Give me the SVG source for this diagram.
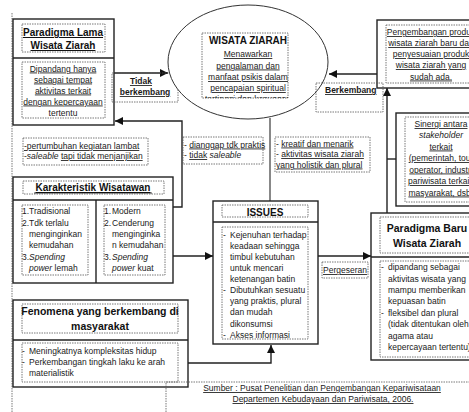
<svg xmlns="http://www.w3.org/2000/svg" width="469" height="412" viewBox="0 0 469 412">
<style>
.t{font-family:"Liberation Sans",Arial,sans-serif;font-size:8.5px;fill:#1a1a1a}
.i{font-style:italic}
.c{text-anchor:middle}
.u{text-decoration:underline wavy #d42020;text-decoration-thickness:0.6px;text-underline-offset:1.5px}
.h{font-family:"Liberation Sans",Arial,sans-serif;font-size:10.5px;font-weight:bold;fill:#111;text-anchor:middle}
.lb{font-family:"Liberation Sans",Arial,sans-serif;font-size:8.5px;font-weight:bold;fill:#1a1a1a}
.box{fill:#fff;stroke:#222;stroke-width:1.4}
.dv{stroke:#222;stroke-width:1.4}
.ds{fill:none;stroke:#555;stroke-width:0.8;stroke-dasharray:1.5 1}
.con{fill:none;stroke:#222;stroke-width:1.4}
.stem{fill:none;stroke:#888;stroke-width:2}
</style>
<defs>
<marker id="ah" markerUnits="userSpaceOnUse" markerWidth="9" markerHeight="8" refX="8" refY="4" orient="auto">
<path d="M0,0 L8,4 L0,8 Z" fill="#111"/>
</marker>
<clipPath id="ec"><rect x="202" y="33" width="86" height="65"/></clipPath>
</defs>
<rect width="469" height="412" fill="#fff"/>

<line x1="12" y1="13" x2="12" y2="412" class="ds"/>

<g id="connectors">
<path class="con" d="M114,73 H168" marker-end="url(#ah)"/>
<path class="con" d="M173,207 H182 V121 H115" marker-end="url(#ah)"/>
<path class="stem" d="M270,118 V201"/>
<path class="con" d="M377,74 H329" marker-end="url(#ah)"/>
<path class="con" d="M387,216 V88" marker-end="url(#ah)"/>
<path class="con" d="M387,159 H396"/>
<path class="con" d="M173,256 H213" marker-end="url(#ah)"/>
<path class="con" d="M188,363 H271 V345" marker-end="url(#ah)"/>
<path class="con" d="M318,256 H371" marker-end="url(#ah)"/>
</g>

<g id="paradigma-lama">
<rect class="box" x="13" y="19" width="101" height="106"/>
<line class="dv" x1="13" y1="58" x2="114" y2="58"/>
<rect class="ds" x="22" y="24" width="83" height="28"/>
<text class="h u" x="63" y="36" style="font-size:10px">Paradigma Lama</text>
<text class="h u" x="63" y="49" style="font-size:10px">Wisata Ziarah</text>
<rect class="ds" x="22" y="62" width="83" height="56"/>
<text class="t c u" x="63" y="71.5">Dipandang hanya</text>
<text class="t c u" x="63" y="82.5">sebagai tempat</text>
<text class="t c u" x="63" y="93.5">aktivitas terkait</text>
<text class="t c u" x="63" y="104.5">dengan kepercayaan</text>
<text class="t c" x="63" y="115.5">tertentu</text>
</g>

<g id="tidak-berkembang">
<rect class="ds" x="112" y="73" width="66" height="29"/>
<text class="lb c u" x="141" y="84">Tidak</text>
<text class="lb c u" x="145" y="95">berkembang</text>
</g>

<g id="wisata-ziarah">
<ellipse cx="248" cy="62" rx="80" ry="57" fill="#fff" stroke="#333" stroke-width="1"/>
<rect class="ds" x="202" y="33" width="86" height="65"/>
<g clip-path="url(#ec)">
<text class="h" x="248" y="44" style="font-size:10px">WISATA ZIARAH</text>
<text class="t c u" x="248" y="57">Menawarkan</text>
<text class="t c u" x="248" y="68.5">pengalaman dan</text>
<text class="t c u" x="248" y="80">manfaat psikis dalam</text>
<text class="t c u" x="248" y="91">pencapaian spiritual</text>
<text class="t c u" x="248" y="102">tertinggi dan kepuasan</text>
</g>
</g>

<g id="pengembangan">
<rect class="box" x="377" y="20" width="100" height="68"/>
<rect class="ds" x="386" y="25" width="90" height="58"/>
<text class="t c u" x="431" y="35">Pengembangan produk</text>
<text class="t c u" x="431" y="46">wisata ziarah baru dan</text>
<text class="t c u" x="431" y="57">penyesuaian produk</text>
<text class="t c u" x="431" y="68">wisata ziarah yang</text>
<text class="t c u" x="431" y="79.5">sudah ada.</text>
</g>

<g id="berkembang">
<rect class="ds" x="316" y="83" width="67" height="29"/>
<text class="lb u" x="325" y="93">Berkembang</text>
</g>

<g id="note-lama">
<rect class="ds" x="23" y="138" width="125" height="27"/>
<text class="t u" x="24" y="149">-pertumbuhan kegiatan lambat</text>
<text class="t" x="24" y="159">-<tspan class="i">saleable</tspan> <tspan class="u">tapi tidak menjanjikan</tspan></text>
</g>

<g id="note-tidak-praktis">
<rect class="ds" x="183" y="137" width="80" height="27"/>
<text class="t" x="184" y="147.5">- <tspan class="u">dianggap tdk praktis</tspan></text>
<text class="t" x="184" y="158">- <tspan class="u">tidak</tspan> <tspan class="i">saleable</tspan></text>
</g>

<g id="note-kreatif">
<rect class="ds" x="275" y="137" width="95" height="35"/>
<text class="t" x="276" y="146.5">- <tspan class="u">kreatif dan menarik</tspan></text>
<text class="t" x="276" y="157">- <tspan class="u">aktivitas wisata ziarah</tspan></text>
<text class="t u" x="276" y="167.5">yang holistik dan plural</text>
</g>

<g id="sinergi">
<rect class="box" x="396" y="113" width="90" height="93"/>
<rect class="ds" x="405" y="117" width="80" height="85"/>
<text class="t c u" x="441" y="127">Sinergi antara</text>
<text class="t c i" x="441" y="138">stakeholder</text>
<text class="t c u" x="441" y="149.5">terkait</text>
<text class="t c u" x="441" y="161">(pemerintah, tour</text>
<text class="t c u" x="441" y="172.5">operator, industri</text>
<text class="t c u" x="441" y="184">pariwisata terkait,</text>
<text class="t c u" x="441" y="195.5">masyarakat, dsb)</text>
</g>

<g id="karakteristik">
<rect class="box" x="13" y="177" width="160" height="106"/>
<line class="dv" x1="13" y1="200" x2="173" y2="200"/>
<line class="dv" x1="96" y1="200" x2="96" y2="283"/>
<rect class="ds" x="23" y="181" width="141" height="13"/>
<line x1="34" y1="193" x2="152" y2="193" stroke="#111" stroke-width="0.8"/>
<text class="h u" x="93" y="191" style="font-size:10px">Karakteristik Wisatawan</text>
<rect class="ds" x="22" y="205" width="66" height="70"/>
<text class="t" x="22" y="214">1.</text><text class="t" x="29" y="214">Tradisional</text>
<text class="t" x="22" y="225.5">2.</text><text class="t" x="29" y="225.5">Tdk terlalu</text>
<text class="t" x="29" y="237">menginginkan</text>
<text class="t" x="29" y="248">kemudahan</text>
<text class="t" x="22" y="259.5">3.</text><text class="t i" x="29" y="259.5">Spending</text>
<text class="t" x="29" y="271"><tspan class="i">power</tspan> lemah</text>
<rect class="ds" x="104" y="205" width="61" height="70"/>
<text class="t" x="104" y="214">1.</text><text class="t" x="112" y="214">Modern</text>
<text class="t" x="104" y="225.5">2.</text><text class="t" x="112" y="225.5">Cenderung</text>
<text class="t" x="112" y="237">menginginka</text>
<text class="t" x="112" y="248">n kemudahan</text>
<text class="t" x="104" y="259.5">3.</text><text class="t i" x="112" y="259.5">Spending</text>
<text class="t" x="112" y="271"><tspan class="i">power</tspan> kuat</text>
</g>

<g id="issues">
<rect class="box" x="213" y="201" width="105" height="143"/>
<line class="dv" x1="213" y1="222" x2="318" y2="222"/>
<rect class="ds" x="222" y="205" width="86" height="12"/>
<text class="h" x="265" y="215.5" style="font-size:10px">ISSUES</text>
<rect class="ds" x="222" y="227" width="86" height="112"/>
<text class="t" x="223" y="238">-</text><text class="t" x="230" y="238">Kejenuhan terhadap</text>
<text class="t" x="230" y="249">keadaan sehingga</text>
<text class="t" x="230" y="260">timbul kebutuhan</text>
<text class="t" x="230" y="271">untuk mencari</text>
<text class="t" x="230" y="281.5">ketenangan batin</text>
<text class="t" x="223" y="293">-</text><text class="t" x="230" y="293">Dibutuhkan sesuatu</text>
<text class="t" x="230" y="304">yang praktis, plural</text>
<text class="t" x="230" y="315">dan mudah</text>
<text class="t" x="230" y="326.5">dikonsumsi</text>
<text class="t" x="223" y="337.5">-</text><text class="t" x="230" y="337.5">Akses informasi</text>
</g>

<g id="pergeseran">
<rect class="ds" x="322" y="262" width="46" height="16"/>
<text class="t u" x="323" y="273">Pergeseran</text>
</g>

<g id="paradigma-baru">
<rect class="box" x="371" y="213" width="110" height="147"/>
<line class="dv" x1="371" y1="257" x2="481" y2="257"/>
<rect class="ds" x="380" y="217" width="100" height="36"/>
<text class="h" x="427" y="232">Paradigma Baru</text>
<text class="h" x="427" y="247">Wisata Ziarah</text>
<rect class="ds" x="380" y="261" width="100" height="96"/>
<text class="t" x="381" y="270">-</text><text class="t" x="388" y="270">dipandang sebagai</text>
<text class="t" x="388" y="281.5">aktivitas wisata yang</text>
<text class="t" x="388" y="293">mampu memberikan</text>
<text class="t" x="388" y="304">kepuasan batin</text>
<text class="t" x="381" y="315.5">-</text><text class="t" x="388" y="315.5">fleksibel dan plural</text>
<text class="t" x="388" y="327">(tidak ditentukan oleh</text>
<text class="t" x="388" y="338.5">agama atau</text>
<text class="t" x="388" y="350">kepercayaan tertentu)</text>
</g>

<g id="fenomena">
<rect class="box" x="13" y="300" width="175" height="87"/>
<line class="dv" x1="13" y1="340" x2="188" y2="340"/>
<rect class="ds" x="22" y="304" width="156" height="29"/>
<text class="h" x="100" y="315">Fenomena yang berkembang di</text>
<text class="h" x="100" y="329.5">masyarakat</text>
<rect class="ds" x="22" y="343" width="156" height="39"/>
<text class="t" x="22" y="353.5">-</text><text class="t" x="29" y="353.5">Meningkatnya kompleksitas hidup</text>
<text class="t" x="22" y="364.5">-</text><text class="t" x="29" y="364.5">Perkembangan tingkah laku ke arah</text>
<text class="t" x="29" y="376">materialistik</text>
</g>

<g id="sumber">
<path class="ds" d="M166,412 V382 H469"/>
<text class="t c u" x="322" y="391">Sumber : Pusat Penelitian dan Pengembangan Kepariwisataan</text>
<text class="t c u" x="323" y="402">Departemen Kebudayaan dan Pariwisata, 2006.</text>
</g>
</svg>
